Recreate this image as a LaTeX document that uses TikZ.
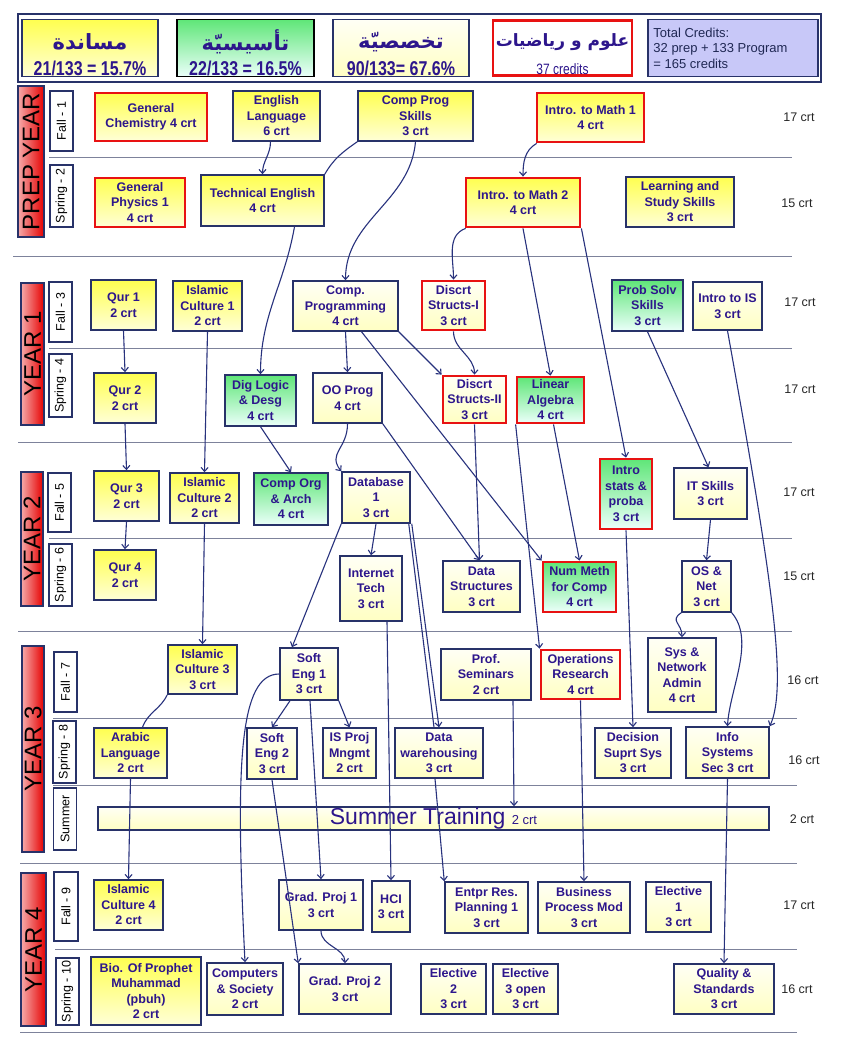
\documentclass[tikz,border=0pt]{standalone}
\usepackage{fontspec}
\setmainfont{Liberation Sans}
\newfontfamily\arabicfont[Script=Arabic]{DejaVu Sans}
\newfontfamily\narrowfont[FakeStretch=0.8]{Liberation Sans}
\TeXXeTstate=1
\usetikzlibrary{arrows.meta}
\definecolor{txtblue}{RGB}{45,22,140}
\definecolor{boxnavy}{RGB}{40,50,105}
\definecolor{linecol}{RGB}{40,50,125}
\definecolor{redline}{RGB}{232,18,18}
\definecolor{sepgray}{RGB}{125,130,155}
\definecolor{yelTop}{RGB}{255,255,80}
\definecolor{yelBot}{RGB}{255,255,215}
\definecolor{grnTop}{RGB}{95,230,120}
\definecolor{grnBot}{RGB}{235,255,250}
\definecolor{palTop}{RGB}{255,255,245}
\definecolor{palBot}{RGB}{255,255,195}
\definecolor{hdrlav}{RGB}{200,200,248}
\definecolor{yrLeft}{RGB}{245,170,170}
\definecolor{yrRight}{RGB}{230,0,0}
\tikzset{
  box/.style 2 args={minimum width=#1pt, minimum height=#2pt},
  course/.style={draw=boxnavy, line width=1.5pt, inner sep=0pt, align=center, text=txtblue,
    font=\fontsize{12.5}{15.5}\selectfont\bfseries},
  support/.style={course, top color=yelTop, bottom color=yelBot},
  found/.style={course, top color=grnTop, bottom color=grnBot},
  spec/.style={course, top color=palTop, bottom color=palBot},
  mathsci/.style={draw=redline, line width=2.8pt},
  yearbox/.style={draw=boxnavy, line width=1.5pt, inner sep=0pt, left color=yrLeft, right color=yrRight,
    font=\fontsize{24}{24}\selectfont},
  termbox/.style={draw=boxnavy, line width=1.5pt, inner sep=0pt, fill=white, font=\fontsize{12.5}{14}\selectfont},
  crt/.style={inner sep=0pt, text=black!85, font=\fontsize{12.5}{14}\selectfont},
  sepline/.style={draw=sepgray, line width=0.8pt},
  hdr/.style={draw=boxnavy, line width=1.5pt, inner sep=0pt},
  arab/.style={inner sep=0pt, text=txtblue, font=\arabicfont\bfseries\fontsize{21}{24}\selectfont},
  hnum/.style={inner sep=0pt, text=txtblue, font=\narrowfont\bfseries\fontsize{20}{22}\selectfont},
  prereq/.style={draw=linecol, line width=1.1pt, -{Straight Barb[length=4pt,width=7pt]}},
  link/.style={draw=linecol, line width=1.1pt}
}
\begin{document}
\begin{tikzpicture}[x=1pt,y=-1pt]
  \useasboundingbox (0,0) rectangle (853,1044);
  \fill[white] (0,0) rectangle (853,1044);
  \draw[boxnavy, line width=2.5pt] (18,14) rectangle (821,82);
  \node[hdr, top color=yelTop, bottom color=yelBot, box={136}{57}] (hsup) at (90,48) {};
  \node[hdr, draw=black, top color=grnTop, bottom color=grnBot, box={137}{57}] (hfound) at (245.5,48) {};
  \node[hdr, top color=palTop, bottom color=palBot, box={136}{57}] (hspec) at (401,48) {};
  \node[hdr, draw=redline, line width=2.8pt, fill=white, box={139}{55}] (hsci) at (562.5,48) {};
  \node[hdr, fill=hdrlav, box={170}{57}] (htot) at (733,48) {};
  \node[arab] at ([yshift=6pt]hsup.center) {\beginR مساندة\endR};
  \node[hnum] at ([yshift=-20pt]hsup.center) {21/133 = 15.7\%};
  \node[arab] at ([yshift=6pt]hfound.center) {\beginR تأسيسيّة\endR};
  \node[hnum] at ([yshift=-20pt]hfound.center) {22/133 = 16.5\%};
  \node[arab] at ([yshift=6pt]hspec.center) {\beginR تخصصيّة\endR};
  \node[hnum] at ([yshift=-20pt]hspec.center) {90/133= 67.6\%};
  \node[arab, font=\arabicfont\bfseries\fontsize{17}{20}\selectfont] at ([yshift=6pt]hsci.center) {\beginR علوم و رياضيات\endR};
  \node[inner sep=0pt, text=txtblue, font=\narrowfont\fontsize{15}{17}\selectfont] at ([yshift=-21pt]hsci.center) {37 credits};
  \node[anchor=west, align=left, inner sep=0pt, text=boxnavy!80!black, font=\fontsize{13}{15.5}\selectfont]
    at ([xshift=6pt]htot.west) {Total Credits:\\32 prep + 133 Program\\= 165 credits};

  \draw[sepline] (49,157) -- (792,157);
  \draw[sepline] (13,256) -- (792,256);
  \draw[sepline] (49,348) -- (792,348);
  \draw[sepline] (18,442) -- (792,442);
  \draw[sepline] (49,538) -- (792,538);
  \draw[sepline] (18,631) -- (792,631);
  \draw[sepline] (53,718) -- (797,718);
  \draw[sepline] (53,785) -- (797,785);
  \draw[sepline] (20,863) -- (797,863);
  \draw[sepline] (55,949) -- (797,949);
  \draw[sepline] (20,1032) -- (797,1032);

  \node[yearbox, box={26}{151}] (prep) at (31,161.5) {\rotatebox{90}{PREP YEAR}};
  \node[yearbox, box={23}{142}] (yr1) at (32.5,354) {\rotatebox{90}{YEAR 1}};
  \node[yearbox, box={22}{134}] (yr2) at (32,539) {\rotatebox{90}{YEAR 2}};
  \node[yearbox, box={22}{206}] (yr3) at (33,749) {\rotatebox{90}{YEAR 3}};
  \node[yearbox, box={25}{153}] (yr4) at (33.5,949.5) {\rotatebox{90}{YEAR 4}};

  \node[termbox, box={23}{60}] (t1) at (61.5,121) {\rotatebox{90}{Fall - 1}};
  \node[termbox, box={23}{62}] (t2) at (61.5,196) {\rotatebox{90}{Spring - 2}};
  \node[termbox, box={23}{60}] (t3) at (60.5,312) {\rotatebox{90}{Fall - 3}};
  \node[termbox, box={23}{63}] (t4) at (60.5,385.5) {\rotatebox{90}{Spring - 4}};
  \node[termbox, box={23}{59}] (t5) at (59.5,502.5) {\rotatebox{90}{Fall - 5}};
  \node[termbox, box={23}{62}] (t6) at (60.5,575) {\rotatebox{90}{Spring - 6}};
  \node[termbox, box={23}{60}] (t7) at (65.5,682) {\rotatebox{90}{Fall - 7}};
  \node[termbox, box={23}{62}] (t8) at (64.5,752) {\rotatebox{90}{Spring - 8}};
  \node[termbox, box={23}{62}] (t9) at (65,819) {\rotatebox{90}{Summer}};
  \node[termbox, box={24}{69}] (t10) at (66,906.5) {\rotatebox{90}{Fall - 9}};
  \node[termbox, box={23}{67}] (t11) at (67.5,991.5) {\rotatebox{90}{Spring - 10}};

  \node[support, mathsci, box={112}{48}] (chem) at (151,117) {General\\Chemistry 4 crt};
  \node[support, box={87}{50}] (englang) at (276.5,116) {English\\Language\\6 crt};
  \node[support, box={115}{50}] (compskills) at (415.5,116) {Comp Prog\\Skills\\3 crt};
  \node[support, mathsci, box={107}{49}] (math1) at (590.5,117.5) {Intro. to Math 1\\4 crt};
  \node[support, mathsci, box={90}{49}] (phys) at (140,202.5) {General\\Physics 1\\4 crt};
  \node[support, box={123}{51}] (techeng) at (262.5,200.5) {Technical English\\4 crt};
  \node[support, mathsci, box={114}{49}] (math2) at (523,202.5) {Intro. to Math 2\\4 crt};
  \node[support, box={108}{50}] (learn) at (680,202) {Learning and\\Study Skills\\3 crt};

  \node[support, box={65}{50}] (qur1) at (123.5,305) {Qur 1\\2 crt};
  \node[support, box={69}{50}] (isc1) at (207.5,306) {Islamic\\Culture 1\\2 crt};
  \node[spec, box={105}{50}] (cprog) at (345.5,306) {Comp.\\Programming\\4 crt};
  \node[spec, mathsci, box={63}{49}] (ds1) at (453.5,305.5) {Discrt\\Structs-I\\3 crt};
  \node[found, box={71}{51}] (probsolv) at (647.5,305.5) {Prob Solv\\Skills\\3 crt};
  \node[spec, box={69}{48}] (introis) at (727.5,306) {Intro to IS\\3 crt};

  \node[support, box={62}{50}] (qur2) at (125,398) {Qur 2\\2 crt};
  \node[found, box={71}{51}] (diglog) at (260.5,400.5) {Dig Logic\\\& Desg\\4 crt};
  \node[spec, box={69}{50}] (oop) at (347.5,398) {OO Prog\\4 crt};
  \node[spec, mathsci, box={63}{47}] (ds2) at (474.5,399.5) {Discrt\\Structs-II\\3 crt};
  \node[found, mathsci, box={67}{46}] (linalg) at (550.5,400) {Linear\\Algebra\\4 crt};

  \node[support, box={65}{50}] (qur3) at (126.5,496) {Qur 3\\2 crt};
  \node[support, box={69}{50}] (isc2) at (204.5,498) {Islamic\\Culture 2\\2 crt};
  \node[found, box={74}{52}] (coa) at (291,499) {Comp Org\\\& Arch\\4 crt};
  \node[spec, box={68}{51}] (db1) at (376,497.5) {Database\\1\\3 crt};
  \node[found, mathsci, box={52}{70}] (stats) at (626,494) {Intro\\stats \&\\proba\\3 crt};
  \node[spec, box={73}{51}] (itskills) at (710.5,493.5) {IT Skills\\3 crt};

  \node[support, box={62}{50}] (qur4) at (125,575) {Qur 4\\2 crt};
  \node[spec, box={62}{65}] (inet) at (371,588.5) {Internet\\Tech\\3 crt};
  \node[spec, box={77}{51}] (dstr) at (481.5,586.5) {Data\\Structures\\3 crt};
  \node[found, mathsci, box={73}{50}] (nummeth) at (579.5,587) {Num Meth\\for Comp\\4 crt};
  \node[spec, box={49}{51}] (osnet) at (706.5,586.5) {OS \&\\Net\\3 crt};

  \node[support, box={69}{49}] (isc3) at (202.5,669.5) {Islamic\\Culture 3\\3 crt};
  \node[spec, box={58}{52}] (se1) at (309,674) {Soft\\Eng 1\\3 crt};
  \node[spec, box={90}{51}] (profsem) at (486,674.5) {Prof.\\Seminars\\2 crt};
  \node[spec, mathsci, box={79}{49}] (opres) at (580.5,674.5) {Operations\\Research\\4 crt};
  \node[spec, box={68}{74}] (sysadmin) at (682,675) {Sys \&\\Network\\Admin\\4 crt};

  \node[support, box={73}{50}] (arabic) at (130.5,753) {Arabic\\Language\\2 crt};
  \node[spec, box={50}{51}] (se2) at (272,753.5) {Soft\\Eng 2\\3 crt};
  \node[spec, box={53}{50}] (isproj) at (349.5,753) {IS Proj\\Mngmt\\2 crt};
  \node[spec, box={88}{50}] (dwh) at (439,753) {Data\\warehousing\\3 crt};
  \node[spec, box={76}{50}] (dss) at (633,753) {Decision\\Suprt Sys\\3 crt};
  \node[spec, box={83}{51}] (iss) at (727.5,752.5) {Info\\Systems\\Sec 3 crt};

  \node[spec, box={671}{23}, font=\fontsize{23}{26}\selectfont] (summer) at (433.5,818.5)
    {Summer Training {\fontsize{13}{15}\selectfont 2 crt}};

  \node[support, box={69}{50}] (isc4) at (128.5,905) {Islamic\\Culture 4\\2 crt};
  \node[spec, box={84}{50}] (gp1) at (321,905) {Grad. Proj 1\\3 crt};
  \node[spec, box={38}{51}] (hci) at (391,906.5) {HCI\\3 crt};
  \node[spec, box={83}{51}] (erp) at (486.5,907.5) {Entpr Res.\\Planning 1\\3 crt};
  \node[spec, box={92}{51}] (bpm) at (584,907.5) {Business\\Process Mod\\3 crt};
  \node[spec, box={65}{50}] (elec1) at (678.5,907) {Elective\\1\\3 crt};

  \node[support, box={110}{68}] (bio) at (146,991) {Bio. Of Prophet\\Muhammad\\(pbuh)\\2 crt};
  \node[spec, box={76}{52}] (compsoc) at (245,989) {Computers\\\& Society\\2 crt};
  \node[spec, box={92}{50}] (gp2) at (345,989) {Grad. Proj 2\\3 crt};
  \node[spec, box={65}{50}] (elec2) at (453.5,989) {Elective\\2\\3 crt};
  \node[spec, box={65}{50}] (elec3) at (525.5,989) {Elective\\3 open\\3 crt};
  \node[spec, box={100}{50}] (quality) at (724,989) {Quality \&\\Standards\\3 crt};

  \node[crt] (c1) at (799,117) {17 crt};
  \node[crt] (c2) at (797,203) {15 crt};
  \node[crt] (c3) at (800,302) {17 crt};
  \node[crt] (c4) at (800,389) {17 crt};
  \node[crt] (c5) at (799,492) {17 crt};
  \node[crt] (c6) at (799,576) {15 crt};
  \node[crt] (c7) at (803,680) {16 crt};
  \node[crt] (c8) at (804,760) {16 crt};
  \node[crt] (c9) at (802,819) {2 crt};
  \node[crt] (c10) at (799,905) {17 crt};
  \node[crt] (c11) at (797,989) {16 crt};

  \draw[prereq] ([xshift=-6pt]englang.south) to[out=-90,in=90] (techeng.north);
  \draw[link] (compskills.south west) to[out=215,in=60] (techeng.north east);
  \draw[prereq] (compskills.south) to[out=-95,in=90] (cprog.north);
  \draw[prereq] ([xshift=32pt]techeng.south) to[out=-100,in=90] (diglog.north);
  \draw[prereq] ([xshift=1pt]math1.south west) to[out=210,in=90] (math2.north);
  \draw[prereq] ([xshift=1pt]math2.south west) to[out=200,in=90] (ds1.north);
  \draw[prereq] (math2.south) -- (linalg.north);
  \draw[prereq] (math2.south east) -- (stats.north);
  \draw[prereq] (qur1.south) -- (qur2.north);
  \draw[prereq] (qur2.south) -- (qur3.north);
  \draw[prereq] (qur3.south) -- (qur4.north);
  \draw[prereq] (isc1.south) -- (isc2.north);
  \draw[prereq] (isc2.south) -- (isc3.north);
  \draw[prereq] (cprog.south) -- (oop.north);
  \draw[prereq] (cprog.south east) -- (ds2.north west);
  \draw[prereq] ([xshift=16pt]cprog.south) -- (nummeth.north west);
  \draw[prereq] (ds1.south) to[out=-90,in=90] (ds2.north);
  \draw[prereq] (diglog.south) -- (coa.north);
  \draw[prereq] (oop.south) .. controls +(0,25) and +(-14,-18) .. (db1.north west);
  \draw[prereq] (oop.south east) -- ([xshift=-2pt]dstr.north);
  \draw[prereq] (ds2.south) -- ([xshift=-2pt]dstr.north);
  \draw[prereq] ([xshift=3pt]linalg.south) -- (nummeth.north);
  \draw[prereq] (linalg.south west) -- (opres.north west);
  \draw[prereq] (probsolv.south) -- ([xshift=-2pt]itskills.north);
  \draw[prereq] (introis.south) .. controls +(45,250) and +(18,-40) .. (iss.north east);
  \draw[prereq] (itskills.south) -- (osnet.north);
  \draw[prereq] (osnet.south west) .. controls +(-12,8) and +(0,-14) .. (sysadmin.north);
  \draw[prereq] (osnet.south east) .. controls +(24,28) and +(2,-37) .. (iss.north);
  \draw[prereq] (stats.south) -- (dss.north);
  \draw[prereq] (db1.south) -- (inet.north);
  \draw[prereq] (db1.south west) -- ([xshift=-17pt]se1.north);
  \draw[link] ([xshift=-2pt]db1.south east) -- ([xshift=-5pt]dwh.north);
  \draw[prereq] ([xshift=1pt]db1.south east) -- (dwh.north);
  \draw[prereq] ([xshift=16pt]inet.south) -- (hci.north);
  \draw[link] (isc3.south west) to[out=-115,in=70] ([xshift=12pt]arabic.north);
  \draw[prereq] (arabic.south) -- (isc4.north);
  \draw[prereq] ([xshift=-19pt]se1.south) -- (se2.north);
  \draw[prereq] (se1.south east) -- (isproj.north);
  \draw[prereq] (se1.west) .. controls +(-40,0) and +(-10,-200) .. (compsoc.north);
  \draw[prereq] ([xshift=1pt]se1.south) -- (gp1.north);
  \draw[prereq] (se2.south) -- (gp2.north west);
  \draw[prereq] (gp1.south) to[out=-90,in=90] (gp2.north);
  \draw[prereq] ([xshift=27pt]profsem.south) -- ([xshift=80.5pt]summer.north);
  \draw[prereq] (opres.south) -- (bpm.north);
  \draw[prereq] (iss.south) -- (quality.north);
  \draw[prereq] ([xshift=-4pt]dwh.south) -- (erp.north west);
\end{tikzpicture}
\end{document}
